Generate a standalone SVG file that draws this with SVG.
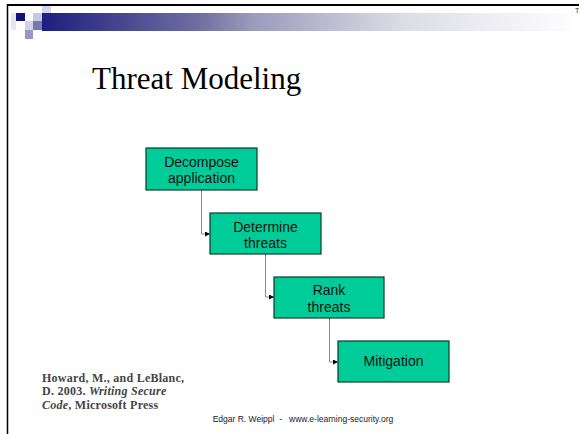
<svg xmlns="http://www.w3.org/2000/svg" width="579" height="434" viewBox="0 0 579 434">
  <defs>
    <linearGradient id="band" x1="0" y1="0" x2="1" y2="0">
      <stop offset="0" stop-color="#1e1e80"/>
      <stop offset="0.29" stop-color="#6e6ea0"/>
      <stop offset="0.39" stop-color="#9a9abb"/>
      <stop offset="0.67" stop-color="#dcdce6"/>
      <stop offset="1" stop-color="#ffffff"/>
    </linearGradient>
    <marker id="arrow" viewBox="0 0 6 6" refX="6" refY="3" markerWidth="5" markerHeight="5" orient="auto" markerUnits="userSpaceOnUse">
      <path d="M0,0 L6,3 L0,6 Z" fill="#000"/>
    </marker>
  </defs>
  <style>
    .box { fill: #00cc99; stroke: #0a3a2c; stroke-width: 1.2; }
    .label { font-family: "Liberation Sans", Arial, sans-serif; font-size: 14px; fill: #111; text-anchor: middle; }
    .link { fill: none; stroke: #888; stroke-width: 1; marker-end: url(#arrow); }
    .cite { font-family: "Liberation Serif", "Times New Roman", serif; font-size: 12px; font-weight: bold; fill: #444; letter-spacing: 0.25px; }
  </style>

  <rect width="579" height="434" fill="#ffffff"/>

  <!-- slide frame -->
  <line x1="7" y1="5" x2="579" y2="5" stroke="#000" stroke-width="2"/>
  <line x1="7.5" y1="4" x2="7.5" y2="434" stroke="#000" stroke-width="1.5"/>

  <!-- header band and square ornament -->
  <rect x="42" y="13" width="537" height="18" fill="url(#band)"/>
  <rect x="11" y="13" width="5" height="17" fill="#e4e4f2"/>
  <rect x="16" y="13" width="9" height="8" fill="#12127a"/>
  <rect x="33" y="13" width="9" height="8" fill="#c8c8e4"/>
  <rect x="42" y="6" width="9" height="7" fill="#d4d4ea"/>
  <rect x="25" y="21" width="8" height="9" fill="#d0d0e8"/>
  <rect x="33" y="21" width="9" height="9" fill="#7878b4"/>
  <rect x="25" y="30" width="8" height="9" fill="#9898c8"/>

  <text x="575" y="13" font-family="Liberation Sans, sans-serif" font-size="7" fill="#333">T</text>

  <!-- title -->
  <text x="92" y="89" font-family="Liberation Serif, 'Times New Roman', serif" font-size="31" fill="#000">Threat Modeling</text>

  <!-- connectors -->
  <g id="connectors">
    <path class="link" d="M201.5,190 V234 H210"/>
    <path class="link" d="M265.5,254 V297 H274"/>
    <path class="link" d="M329.5,318 V362 H338"/>
  </g>

  <!-- process steps -->
  <g id="decompose">
    <rect class="box" x="146" y="148" width="111" height="42"/>
    <text class="label" x="201.5" y="167">Decompose</text>
    <text class="label" x="201.5" y="183">application</text>
  </g>
  <g id="determine">
    <rect class="box" x="210" y="213" width="111" height="41"/>
    <text class="label" x="265.5" y="232">Determine</text>
    <text class="label" x="265.5" y="248">threats</text>
  </g>
  <g id="rank">
    <rect class="box" x="274" y="277" width="110" height="41"/>
    <text class="label" x="329" y="295">Rank</text>
    <text class="label" x="329" y="311.5">threats</text>
  </g>
  <g id="mitigation">
    <rect class="box" x="338" y="341" width="111" height="41"/>
    <text class="label" x="393.5" y="366">Mitigation</text>
  </g>

  <!-- reference -->
  <text class="cite" x="42" y="381.5">Howard, M., and LeBlanc,</text>
  <text class="cite" x="42" y="395">D. 2003. <tspan font-style="italic">Writing Secure</tspan></text>
  <text class="cite" x="42" y="408.5"><tspan font-style="italic">Code</tspan>, Microsoft Press</text>

  <!-- footer -->
  <text x="303" y="422" font-family="Liberation Sans, Arial, sans-serif" font-size="8.5" fill="#222" text-anchor="middle" xml:space="preserve">Edgar R. Weippl  -   www.e-learning-security.org</text>
</svg>
